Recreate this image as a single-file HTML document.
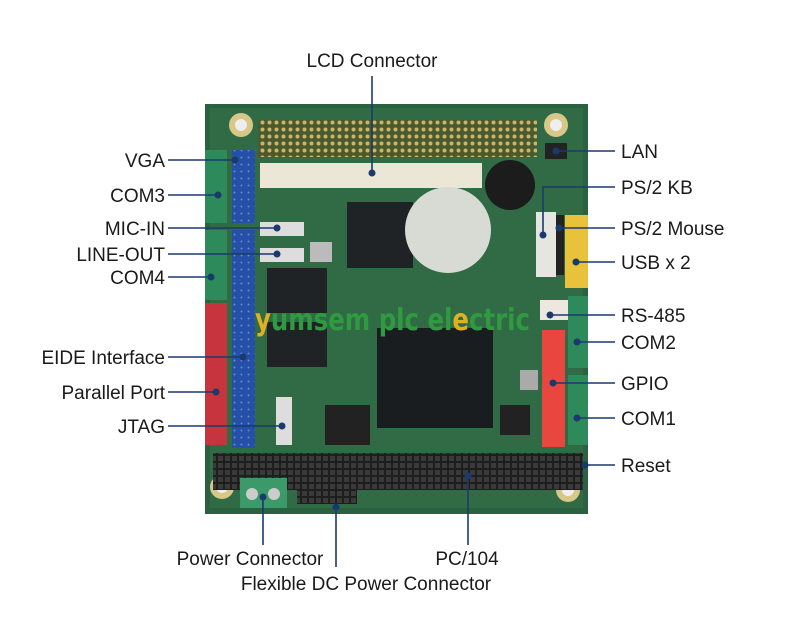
<!DOCTYPE html>
<html><head><meta charset="utf-8"><style>
html,body{margin:0;padding:0;background:#fff;}
svg{display:block;}
text{font-family:"Liberation Sans",sans-serif;font-size:19px;fill:#1a1a1a;}
</style></head><body>
<svg width="790" height="642" viewBox="0 0 790 642" xmlns="http://www.w3.org/2000/svg">
<defs>
<pattern id="pins" width="7" height="7" patternUnits="userSpaceOnUse"><rect width="7" height="7" fill="#4a5a2e"/><circle cx="3.5" cy="3.5" r="2" fill="#c9b56a"/></pattern>
<pattern id="bpins" width="7" height="7" patternUnits="userSpaceOnUse"><rect width="7" height="7" fill="#1e1e1e"/><rect x="1" y="1" width="5" height="5" fill="#3a3a3a"/></pattern>
<pattern id="bluep" width="7" height="7" patternUnits="userSpaceOnUse"><rect width="7" height="7" fill="#2550a8"/><circle cx="3.5" cy="3.5" r="1" fill="#6a8ad0"/></pattern>
</defs>
<rect x="205" y="104" width="383" height="410" fill="#2a6140"/>
<rect x="210" y="108" width="373" height="400" fill="#35714b" opacity="0.6"/>
<g fill="#d8c888"><circle cx="241" cy="125" r="12"/><circle cx="556" cy="125" r="12"/><circle cx="222" cy="487" r="12"/><circle cx="568" cy="490" r="12"/></g>
<g fill="#eee"><circle cx="241" cy="125" r="6"/><circle cx="556" cy="125" r="6"/><circle cx="222" cy="487" r="6"/><circle cx="568" cy="490" r="6"/></g>
<rect x="258" y="120" width="279" height="37" fill="url(#pins)"/>
<rect x="260" y="163" width="222" height="25" fill="#ece6d6"/>
<rect x="205" y="150" width="22" height="73" fill="#2d8a5a"/>
<rect x="205" y="230" width="22" height="70" fill="#2d8a5a"/>
<rect x="205" y="303" width="22" height="142" fill="#c8343e"/>
<rect x="232" y="150" width="23" height="73" fill="url(#bluep)"/>
<rect x="232" y="230" width="23" height="218" fill="url(#bluep)"/>
<rect x="260" y="222" width="44" height="14" fill="#ddd"/>
<rect x="260" y="248" width="44" height="14" fill="#ddd"/>
<rect x="310" y="242" width="22" height="20" fill="#bbb"/>
<rect x="276" y="397" width="16" height="48" fill="#ddd"/>
<rect x="347" y="202" width="66" height="66" fill="#1f2326"/>
<rect x="267" y="268" width="60" height="45" fill="#1f2326"/>
<rect x="267" y="322" width="60" height="45" fill="#1f2326"/>
<rect x="377" y="328" width="116" height="100" fill="#1a1d20"/>
<rect x="325" y="405" width="45" height="40" fill="#222"/>
<rect x="500" y="405" width="30" height="30" fill="#222"/>
<circle cx="448" cy="230" r="43" fill="#d8dad4"/>
<circle cx="510" cy="185" r="25" fill="#1c1c1c"/>
<rect x="536" y="212" width="20" height="65" fill="#e6e6e0"/>
<rect x="556" y="215" width="8" height="60" fill="#222"/>
<rect x="565" y="215" width="23" height="73" fill="#e8c23a"/>
<rect x="545" y="143" width="22" height="16" fill="#222"/>
<rect x="540" y="300" width="30" height="20" fill="#ece8e0"/>
<rect x="542" y="330" width="23" height="117" fill="#e8463e"/>
<rect x="568" y="296" width="20" height="72" fill="#2d8a5a"/>
<rect x="568" y="375" width="20" height="70" fill="#2d8a5a"/>
<rect x="520" y="370" width="18" height="20" fill="#aaa"/>
<rect x="213" y="453" width="370" height="37" fill="url(#bpins)"/>
<rect x="297" y="490" width="60" height="14" fill="url(#bpins)"/>
<rect x="240" y="478" width="47" height="30" fill="#3c9a6a"/>
<circle cx="252" cy="494" r="6" fill="#ccc"/><circle cx="274" cy="494" r="6" fill="#ccc"/>
<text x="255" y="330" textLength="275" lengthAdjust="spacingAndGlyphs" style="font-size:30px;font-weight:bold;fill:#2f9a40;font-family:'DejaVu Sans',sans-serif"><tspan fill="#e0b020">y</tspan>umsem plc el<tspan fill="#e0b020">e</tspan>ctric</text>

<g stroke="#1a3a6e" stroke-width="1.6" fill="none">
<line x1="372" y1="76" x2="372" y2="173"/>
<line x1="168" y1="160" x2="235" y2="160"/>
<line x1="168" y1="195" x2="218" y2="195"/>
<line x1="168" y1="228" x2="277" y2="228"/>
<line x1="168" y1="254" x2="277" y2="254"/>
<line x1="168" y1="277" x2="211" y2="277"/>
<line x1="168" y1="357" x2="243" y2="357"/>
<line x1="168" y1="392" x2="216" y2="392"/>
<line x1="168" y1="426" x2="282" y2="426"/>
<line x1="556" y1="151" x2="615" y2="151"/>
<polyline points="543,235 543,187 615,187"/>
<line x1="559" y1="228" x2="615" y2="228"/>
<line x1="576" y1="262" x2="615" y2="262"/>
<line x1="550" y1="315" x2="615" y2="315"/>
<line x1="577" y1="342" x2="615" y2="342"/>
<line x1="553" y1="383" x2="615" y2="383"/>
<line x1="577" y1="418" x2="615" y2="418"/>
<line x1="585" y1="465" x2="615" y2="465"/>
<line x1="263" y1="497" x2="263" y2="545"/>
<line x1="336" y1="507" x2="336" y2="567"/>
<line x1="468" y1="476" x2="468" y2="545"/>
</g>
<g fill="#1a3a6e">
<circle cx="372" cy="173" r="3.5"/><circle cx="235" cy="160" r="3.5"/><circle cx="218" cy="195" r="3.5"/>
<circle cx="277" cy="228" r="3.5"/><circle cx="277" cy="254" r="3.5"/><circle cx="211" cy="277" r="3.5"/>
<circle cx="243" cy="357" r="3.5"/><circle cx="216" cy="392" r="3.5"/><circle cx="282" cy="426" r="3.5"/>
<circle cx="556" cy="151" r="3.5"/><circle cx="543" cy="235" r="3.5"/><circle cx="559" cy="228" r="3.5"/>
<circle cx="576" cy="262" r="3.5"/><circle cx="550" cy="315" r="3.5"/><circle cx="577" cy="342" r="3.5"/>
<circle cx="553" cy="383" r="3.5"/><circle cx="577" cy="418" r="3.5"/><circle cx="585" cy="465" r="3.5"/>
<circle cx="263" cy="497" r="3.5"/><circle cx="336" cy="507" r="3.5"/><circle cx="468" cy="476" r="3.5"/>
</g>

<text x="372" y="67" text-anchor="middle">LCD Connector</text>
<g text-anchor="end">
<text x="165" y="167">VGA</text>
<text x="165" y="202">COM3</text>
<text x="165" y="235">MIC-IN</text>
<text x="165" y="261">LINE-OUT</text>
<text x="165" y="284">COM4</text>
<text x="165" y="364">EIDE Interface</text>
<text x="165" y="399">Parallel Port</text>
<text x="165" y="433">JTAG</text>
</g>
<g>
<text x="621" y="158">LAN</text>
<text x="621" y="194">PS/2 KB</text>
<text x="621" y="235">PS/2 Mouse</text>
<text x="621" y="269">USB x 2</text>
<text x="621" y="322">RS-485</text>
<text x="621" y="349">COM2</text>
<text x="621" y="390">GPIO</text>
<text x="621" y="425">COM1</text>
<text x="621" y="472">Reset</text>
</g>
<text x="250" y="565" text-anchor="middle">Power Connector</text>
<text x="366" y="590" text-anchor="middle">Flexible DC Power Connector</text>
<text x="467" y="565" text-anchor="middle">PC/104</text>
</svg>
</body></html>
